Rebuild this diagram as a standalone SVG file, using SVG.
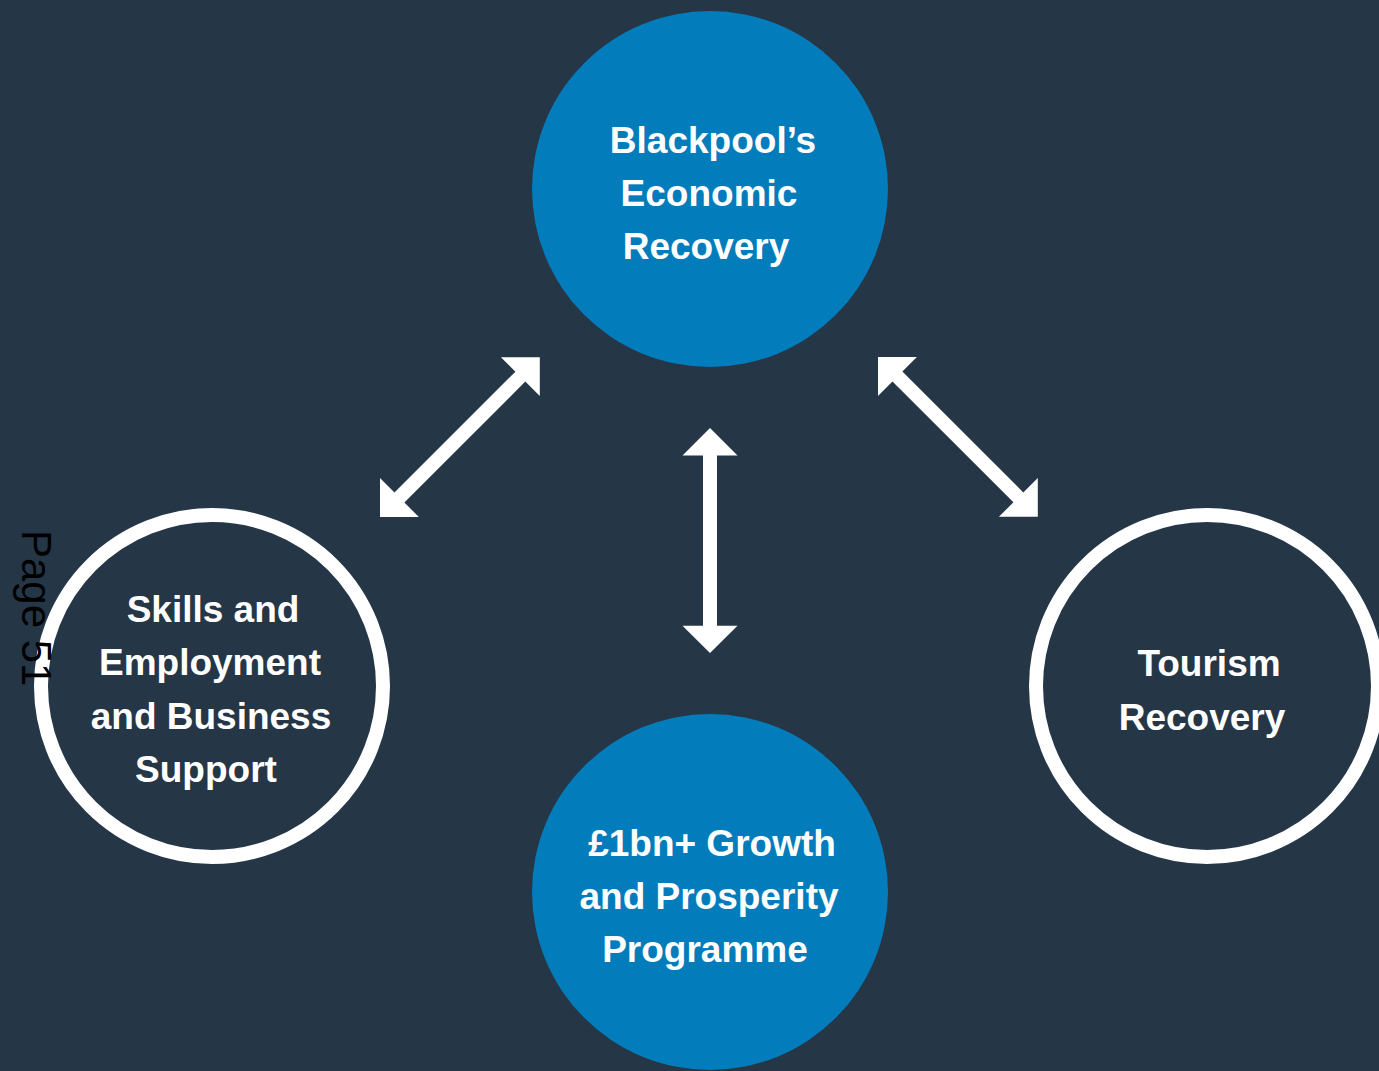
<svg xmlns="http://www.w3.org/2000/svg" width="1379" height="1071" viewBox="0 0 1379 1071">
<style>
.t{font-family:"Liberation Sans",Arial,sans-serif;font-weight:bold;font-size:37px;fill:#ffffff;text-anchor:middle}
.blue{fill:#037cbb}
.ring{fill:none;stroke:#ffffff;stroke-width:14}
.arr{fill:#ffffff}
.pg{font-family:"Liberation Sans",Arial,sans-serif;font-size:42px;fill:#000000}
</style>
<defs>
<path id="dbl" d="M0,0 L27.5,-27.5 L27.5,-7 L198.5,-7 L198.5,-27.5 L226,0 L198.5,27.5 L198.5,7 L27.5,7 L27.5,27.5 Z"/>
</defs>
<rect x="0" y="0" width="1379" height="1071" fill="#253647"/>
<g id="connectors">
<use href="#dbl" class="arr" transform="translate(380,517) rotate(-45)"/>
<use href="#dbl" class="arr" transform="translate(710,428) rotate(90) scale(0.996,1)"/>
<use href="#dbl" class="arr" transform="translate(878,357) rotate(45)"/>
</g>
<g id="node-economic">
<circle class="blue" cx="710" cy="189" r="178"/>
<text class="t" x="713" y="153">Blackpool’s</text>
<text class="t" x="709" y="206">Economic</text>
<text class="t" x="706" y="259">Recovery</text>
</g>
<g id="node-growth">
<circle class="blue" cx="710" cy="892" r="178"/>
<text class="t" x="712" y="856">£1bn+ Growth</text>
<text class="t" x="709" y="909">and Prosperity</text>
<text class="t" x="705" y="962">Programme</text>
</g>
<g id="node-skills">
<circle class="ring" cx="212" cy="686" r="171"/>
<text class="t" x="213" y="622">Skills and</text>
<text class="t" x="210" y="675">Employment</text>
<text class="t" x="211" y="729">and Business</text>
<text class="t" x="206" y="782">Support</text>
</g>
<g id="node-tourism">
<circle class="ring" cx="1207" cy="686" r="171"/>
<text class="t" x="1209" y="676">Tourism</text>
<text class="t" x="1202" y="730">Recovery</text>
</g>
<text class="pg" transform="translate(22,530) rotate(90)">Page 51</text>
</svg>
